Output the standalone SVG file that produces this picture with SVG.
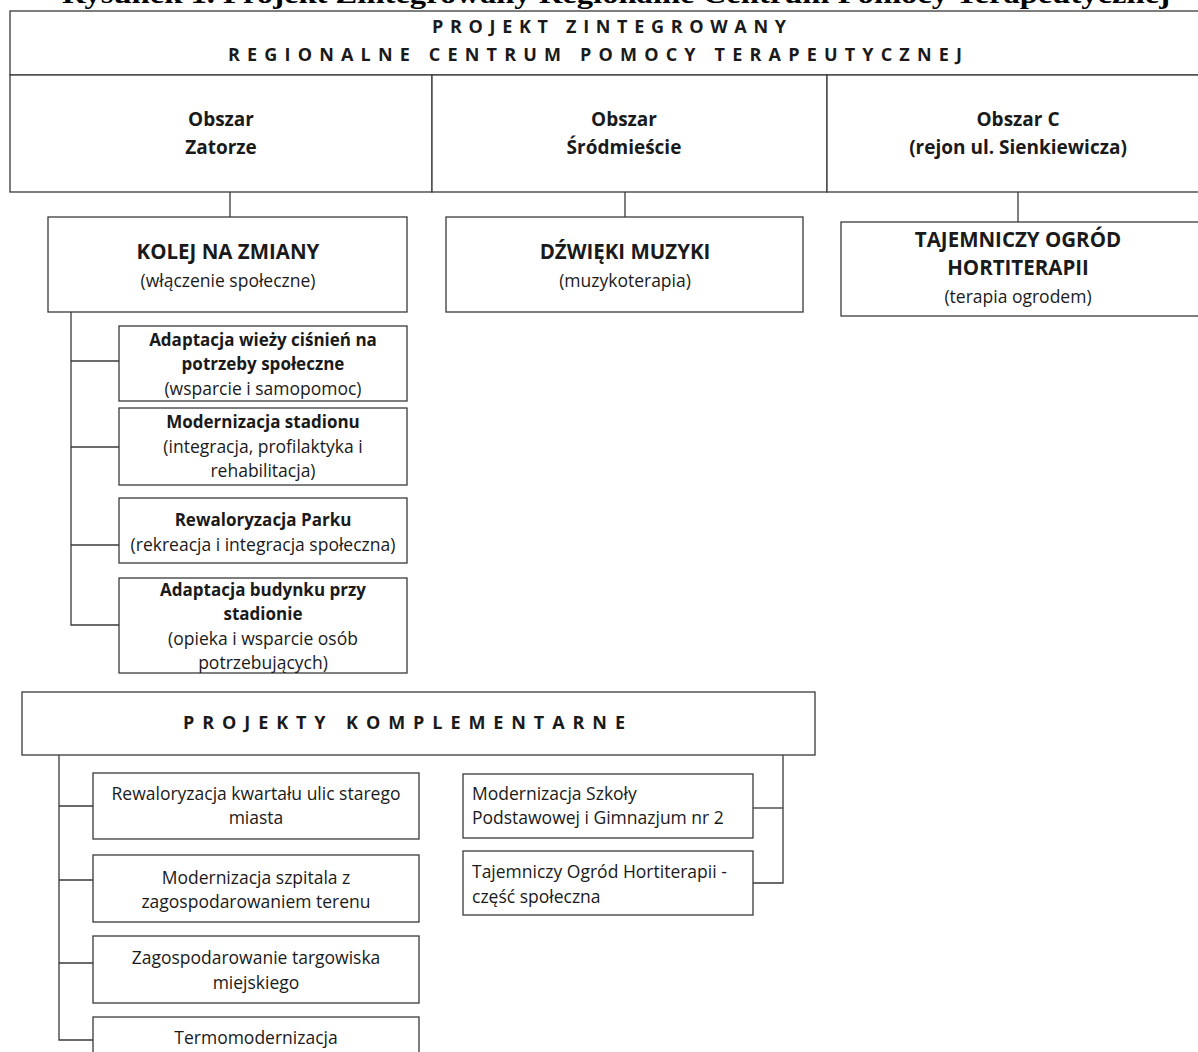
<svg xmlns="http://www.w3.org/2000/svg" width="1198" height="1052" viewBox="0 0 1198 1052">
<style>
  .box { fill: #ffffff; stroke: #3a3a3a; stroke-width: 1.3; }
  .line { fill: none; stroke: #3a3a3a; stroke-width: 1.3; }
  text { font-family: "Open Sans", Lato, "Liberation Sans", sans-serif; fill: #1a1a1a; }
  .hd { font-size: 18px; font-weight: bold; text-anchor: middle; }
  .area { font-size: 19px; font-weight: bold; text-anchor: middle; }
  .main { font-size: 20.5px; font-weight: bold; text-anchor: middle; }
  .sub { font-size: 17.5px; text-anchor: middle; }
  .sb { font-size: 17px; font-weight: bold; text-anchor: middle; }
  .cp { font-size: 17.5px; }
  .title { font-family: "Liberation Serif", "Times New Roman", serif; font-size: 27px; font-weight: bold; fill: #000; }
</style>
<rect width="1198" height="1052" fill="#ffffff"/>
<text class="title" x="62" y="3" textLength="1108" lengthAdjust="spacingAndGlyphs">Rysunek 1. Projekt Zintegrowany Regionalne Centrum Pomocy Terapeutycznej</text>

<g id="connectors">
  <line class="line" x1="230" y1="192" x2="230" y2="217"/>
  <line class="line" x1="625" y1="192" x2="625" y2="217"/>
  <line class="line" x1="1018" y1="192" x2="1018" y2="222"/>
  <polyline class="line" points="71,312 71,625 119,625"/>
  <line class="line" x1="71" y1="361" x2="119" y2="361"/>
  <line class="line" x1="71" y1="447" x2="119" y2="447"/>
  <line class="line" x1="71" y1="545" x2="119" y2="545"/>
  <polyline class="line" points="59,755 59,1040 93,1040"/>
  <line class="line" x1="59" y1="806" x2="93" y2="806"/>
  <line class="line" x1="59" y1="880" x2="93" y2="880"/>
  <line class="line" x1="59" y1="963" x2="93" y2="963"/>
  <polyline class="line" points="783,755 783,883 753,883"/>
  <line class="line" x1="753" y1="808" x2="783" y2="808"/>
</g>

<g id="projekt-zintegrowany">
  <rect class="box" x="10" y="11" width="1190" height="64"/>
  <text class="hd" x="609" y="33" textLength="354" lengthAdjust="spacing">PROJEKT ZINTEGROWANY</text>
  <text class="hd" x="595" y="61" textLength="734" lengthAdjust="spacing">REGIONALNE CENTRUM POMOCY TERAPEUTYCZNEJ</text>
</g>

<g id="obszar-zatorze">
  <rect class="box" x="10" y="75" width="422" height="117"/>
  <text class="area" x="221" y="126">Obszar</text>
  <text class="area" x="221" y="154">Zatorze</text>
</g>
<g id="obszar-srodmiescie">
  <rect class="box" x="432" y="75" width="395" height="117"/>
  <text class="area" x="624" y="126">Obszar</text>
  <text class="area" x="624" y="154">Śródmieście</text>
</g>
<g id="obszar-c">
  <rect class="box" x="827" y="75" width="373" height="117"/>
  <text class="area" x="1018" y="126">Obszar C</text>
  <text class="area" x="1018" y="154">(rejon ul. Sienkiewicza)</text>
</g>

<g id="kolej-na-zmiany">
  <rect class="box" x="48" y="217" width="359" height="95"/>
  <text class="main" x="228" y="259">KOLEJ NA ZMIANY</text>
  <text class="sub" x="228" y="287">(włączenie społeczne)</text>
</g>
<g id="dzwieki-muzyki">
  <rect class="box" x="446" y="217" width="357" height="95"/>
  <text class="main" x="625" y="259">DŹWIĘKI MUZYKI</text>
  <text class="sub" x="625" y="287">(muzykoterapia)</text>
</g>
<g id="tajemniczy-ogrod">
  <rect class="box" x="841" y="222" width="359" height="94"/>
  <text class="main" x="1018" y="247">TAJEMNICZY OGRÓD</text>
  <text class="main" x="1018" y="275">HORTITERAPII</text>
  <text class="sub" x="1018" y="303">(terapia ogrodem)</text>
</g>

<g id="adaptacja-wiezy">
  <rect class="box" x="119" y="326" width="288" height="75"/>
  <text class="sb" x="263" y="346">Adaptacja wieży ciśnień na</text>
  <text class="sb" x="263" y="370">potrzeby społeczne</text>
  <text class="sub" x="263" y="395">(wsparcie i samopomoc)</text>
</g>
<g id="modernizacja-stadionu">
  <rect class="box" x="119" y="408" width="288" height="77"/>
  <text class="sb" x="263" y="428">Modernizacja stadionu</text>
  <text class="sub" x="263" y="453">(integracja, profilaktyka i</text>
  <text class="sub" x="263" y="477">rehabilitacja)</text>
</g>
<g id="rewaloryzacja-parku">
  <rect class="box" x="119" y="498" width="288" height="65"/>
  <text class="sb" x="263" y="526">Rewaloryzacja Parku</text>
  <text class="sub" x="263" y="551">(rekreacja i integracja społeczna)</text>
</g>
<g id="adaptacja-budynku">
  <rect class="box" x="119" y="578" width="288" height="95"/>
  <text class="sb" x="263" y="596">Adaptacja budynku przy</text>
  <text class="sb" x="263" y="620">stadionie</text>
  <text class="sub" x="263" y="645">(opieka i wsparcie osób</text>
  <text class="sub" x="263" y="669">potrzebujących)</text>
</g>

<g id="projekty-komplementarne">
  <rect class="box" x="22" y="692" width="793" height="63"/>
  <text class="hd" x="404" y="729" textLength="442" lengthAdjust="spacing">PROJEKTY KOMPLEMENTARNE</text>
</g>

<g id="rewaloryzacja-kwartalu">
  <rect class="box" x="93" y="773" width="326" height="66"/>
  <text class="sub" x="256" y="800">Rewaloryzacja kwartału ulic starego</text>
  <text class="sub" x="256" y="824">miasta</text>
</g>
<g id="modernizacja-szpitala">
  <rect class="box" x="93" y="855" width="326" height="67"/>
  <text class="sub" x="256" y="884">Modernizacja szpitala z</text>
  <text class="sub" x="256" y="908">zagospodarowaniem terenu</text>
</g>
<g id="zagospodarowanie-targowiska">
  <rect class="box" x="93" y="936" width="326" height="67"/>
  <text class="sub" x="256" y="964">Zagospodarowanie targowiska</text>
  <text class="sub" x="256" y="989">miejskiego</text>
</g>
<g id="termomodernizacja">
  <rect class="box" x="93" y="1017" width="326" height="60"/>
  <text class="sub" x="256" y="1044">Termomodernizacja</text>
</g>
<g id="modernizacja-szkoly">
  <rect class="box" x="463" y="774" width="290" height="64"/>
  <text class="cp" x="472" y="800">Modernizacja Szkoły</text>
  <text class="cp" x="472" y="824">Podstawowej i Gimnazjum nr 2</text>
</g>
<g id="ogrod-czesc-spoleczna">
  <rect class="box" x="463" y="851" width="290" height="64"/>
  <text class="cp" x="472" y="878">Tajemniczy Ogród Hortiterapii -</text>
  <text class="cp" x="472" y="903">część społeczna</text>
</g>
</svg>
